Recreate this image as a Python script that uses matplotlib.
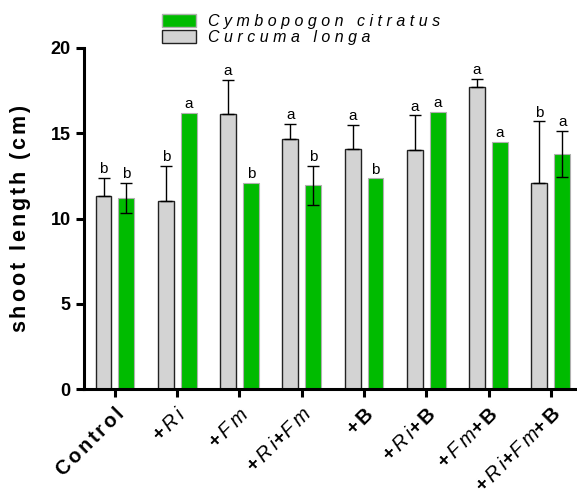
import numpy as np
import matplotlib
matplotlib.use("Agg")
import matplotlib.pyplot as plt
from matplotlib.patches import Patch

plt.rcParams["font.family"] = "Liberation Sans"
plt.rcParams["mathtext.fontset"] = "custom"
plt.rcParams["mathtext.rm"] = "Liberation Sans:bold"
plt.rcParams["mathtext.it"] = "Liberation Sans:italic"
plt.rcParams["mathtext.bf"] = "Liberation Sans:bold"

# datos
tratamientos = [r"$\mathbf{C\,o\,n\,t\,r\,o\,l}$",
                r"$\mathbf{+}\,\mathit{R\:i}$",
                r"$\mathbf{+}\,\mathit{F\:m}$",
                r"$\mathbf{+}\,\mathit{R\:i}\mathbf{+}\mathit{F\:m}$",
                r"$\mathbf{+\,B}$",
                r"$\mathbf{+}\,\mathit{R\:i}\mathbf{+\,B}$",
                r"$\mathbf{+}\,\mathit{F\:m}\mathbf{+\,B}$",
                r"$\mathbf{+}\,\mathit{R\:i}\mathbf{+}\mathit{F\:m}\mathbf{+\,B}$"]
curcuma = [11.3, 11.0, 16.15, 14.65, 14.05, 14.0, 17.7, 12.1]
curcuma_err = [1.1, 2.1, 2.0, 0.9, 1.45, 2.05, 0.5, 3.6]
cymbo = [11.2, 16.2, 12.1, 11.95, 12.35, 16.25, 14.5, 13.8]
cymbo_err = [0.9, 0.0, 0.0, 1.15, 0.0, 0.0, 0.0, 1.35]
letras_curcuma = ["b", "b", "a", "a", "a", "a", "a", "b"]
letras_cymbo = ["b", "a", "b", "b", "b", "a", "a", "a"]

x = np.arange(len(tratamientos))
w = 0.256
off = 0.184

fig = plt.figure(figsize=(5.77, 5.0), dpi=100)
ax = fig.add_axes([0.1456, 0.222, 0.8544, 0.682])

ax.bar(x - off, curcuma, w, color="#d3d3d3", edgecolor="#222222", linewidth=1.0)
ax.bar(x + off, cymbo, w, color="#00bb00", edgecolor="#b0b0b0", linewidth=0.8)

# barras de error: solo hacia arriba en curcuma, ambas en cymbopogon
ax.errorbar(x - off, curcuma, yerr=[np.zeros(len(x)), curcuma_err], fmt="none",
            ecolor="black", elinewidth=1.0, capsize=4, capthick=1.0)
ce = np.array(cymbo_err)
m = ce > 0
ax.errorbar((x + off)[m], np.array(cymbo)[m], yerr=ce[m], fmt="none",
            ecolor="black", elinewidth=1.0, capsize=4, capthick=1.0)

for i in range(len(x)):
    ax.text(x[i] - off, curcuma[i] + curcuma_err[i] + 0.1, letras_curcuma[i],
            ha="center", va="bottom", fontsize=11)
    ax.text(x[i] + off, cymbo[i] + cymbo_err[i] + 0.1, letras_cymbo[i],
            ha="center", va="bottom", fontsize=11)

ax.set_xlim(-0.497, 7.42)
ax.set_ylim(0, 20)
ax.set_yticks([0, 5, 10, 15, 20])
ax.set_yticklabels(["0", "5", "10", "15", "20"], fontweight="bold", fontsize=13)
ax.set_xticks(x)
ax.set_xticklabels(tratamientos, rotation=45, ha="right", rotation_mode="anchor",
                   fontsize=14.5)
ax.set_ylabel(r"$\mathbf{s\,h\,o\,o\,t\ \ l\,e\,n\,g\,t\,h\ \ (\,c\,m\,)}$", fontsize=15.5)
ax.yaxis.set_label_coords(-0.103, 0.5)

for s in ["top", "right"]:
    ax.spines[s].set_visible(False)
for s in ["left", "bottom"]:
    ax.spines[s].set_linewidth(2.2)
ax.tick_params(width=2.2, length=6, direction="out")
ax.tick_params(axis="x", pad=5)

handles = [Patch(facecolor="#00bb00", edgecolor="#b0b0b0"),
           Patch(facecolor="#d3d3d3", edgecolor="#222222")]
etiquetas = ["C y m b o p o g o n   c i t r a t u s", "C u r c u m a   l o n g a"]
leg = fig.legend(handles, etiquetas, loc="upper left", bbox_to_anchor=(0.256, 1.0),
                 frameon=False, prop={"style": "italic", "size": 11.5},
                 handlelength=2.1, handleheight=0.85, labelspacing=0.05,
                 handletextpad=0.8)

fig.savefig("out.png", dpi=100)
